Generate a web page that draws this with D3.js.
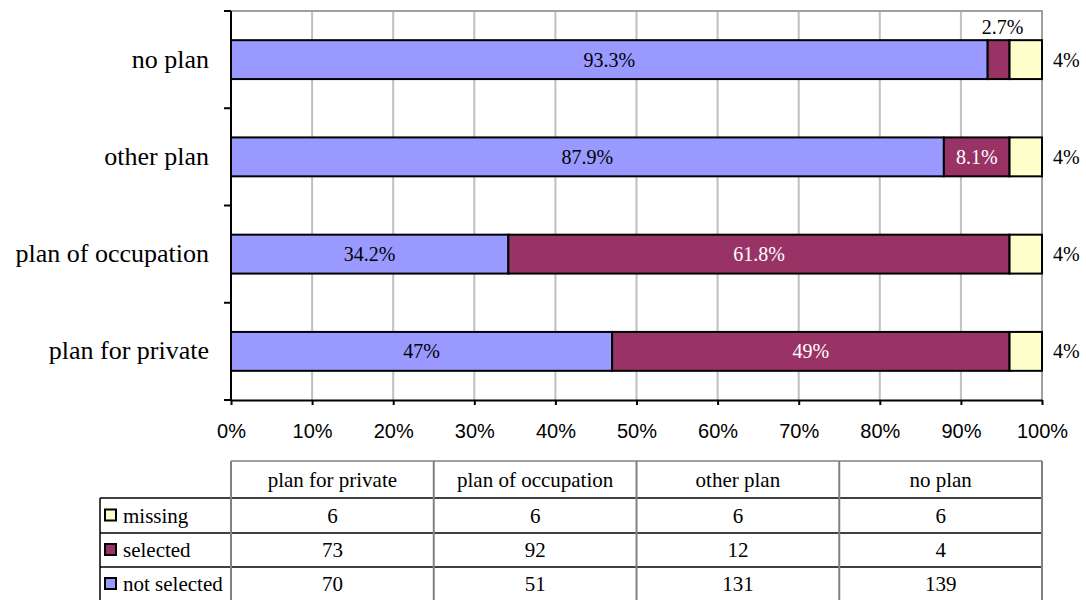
<!DOCTYPE html>
<html>
<head>
<meta charset="utf-8">
<script src="https://cdn.jsdelivr.net/npm/d3@7"></script>
<style>
  html, body { margin: 0; padding: 0; background: #ffffff; }
  svg { display: block; }
</style>
</head>
<body>
<svg id="chart" width="1086" height="600"></svg>
<script>
// Plans, in table order (bottom bar first)
const categories = ["plan for private", "plan of occupation", "other plan", "no plan"];
const seriesNames = ["not selected", "selected", "missing"];

// Counts shown in the data table
const countNotSelected = [70, 51, 131, 139];
const countSelected = [73, 92, 12, 4];
const countMissing = [6, 6, 6, 6];

// Percentage shares drawn as bars and printed on them
const pctNotSelected = [47, 34.2, 87.9, 93.3];
const pctSelected = [49, 61.8, 8.1, 2.7];
const pctMissing = [4, 4, 4, 4];

const xTicks = [0, 10, 20, 30, 40, 50, 60, 70, 80, 90, 100];

const colors = { "not selected": "#9999FF", "selected": "#993366", "missing": "#FFFFCC" };
const serif = "'Times New Roman', 'Liberation Serif', serif";
const sans = "Arial, 'Liberation Sans', sans-serif";

const svg = d3.select("#chart");

const plot = { left: 231, right: 1042, top: 11, bottom: 400 };

const x = d3.scaleLinear().domain([0, 100]).range([plot.left, plot.right]);
const y = d3.scaleBand()
  .domain(categories.slice().reverse())
  .range([plot.top, plot.bottom])
  .paddingInner(0.6)
  .paddingOuter(0.3);

// Gridlines
svg.append("g")
  .selectAll("line")
  .data(xTicks.filter(t => t > 0 && t < 100))
  .join("line")
  .attr("x1", d => x(d)).attr("x2", d => x(d))
  .attr("y1", plot.top).attr("y2", plot.bottom)
  .attr("stroke", "#c0c0c0").attr("stroke-width", 2);

// Plot frame (top and right)
svg.append("path")
  .attr("d", `M${plot.left},${plot.top}H${plot.right}V${plot.bottom}`)
  .attr("fill", "none").attr("stroke", "#a0a0a0").attr("stroke-width", 2);

// Stacked data
const rows = categories.map((c, i) => ({
  cat: c,
  "not selected": pctNotSelected[i],
  "selected": pctSelected[i],
  "missing": pctMissing[i]
}));
const stacked = d3.stack().keys(seriesNames)(rows);

const segs = svg.append("g");
stacked.forEach(layer => {
  segs.selectAll(null)
    .data(layer)
    .join("rect")
    .attr("x", d => x(d[0]))
    .attr("y", d => y(d.data.cat))
    .attr("width", d => x(d[1]) - x(d[0]))
    .attr("height", y.bandwidth())
    .attr("fill", colors[layer.key])
    .attr("stroke", "#000")
    .attr("stroke-width", 2);
});

// Value labels
const labels = svg.append("g").attr("font-family", serif).attr("font-size", 20);
const fmt = v => v + "%";
stacked.forEach(layer => {
  layer.forEach(d => {
    const v = d.data[layer.key];
    const cy = y(d.data.cat) + y.bandwidth() / 2;
    const w = x(d[1]) - x(d[0]);
    if (layer.key === "missing") {
      labels.append("text")
        .attr("x", x(d[1]) + 11).attr("y", cy + 7)
        .attr("fill", "#000")
        .text(fmt(v));
      return;
    }
    const t = labels.append("text")
      .attr("text-anchor", "middle")
      .attr("fill", layer.key === "selected" ? "#fff" : "#000")
      .text(fmt(v));
    const tw = t.node().getComputedTextLength();
    if (tw + 6 > w) {
      t.attr("x", (x(d[0]) + x(d[1])) / 2 + 4)
        .attr("y", y(d.data.cat) - 6)
        .attr("fill", "#000");
    } else {
      t.attr("x", (x(d[0]) + x(d[1])) / 2).attr("y", cy + 7);
    }
  });
});

// Bottom axis
const xAxis = svg.append("g")
  .attr("transform", `translate(0,${plot.bottom})`)
  .call(d3.axisBottom(x).tickValues(xTicks).tickFormat(d => d + "%").tickSize(5).tickPadding(19).tickSizeOuter(0));
xAxis.select(".domain").attr("stroke", "#000").attr("stroke-width", 2);
xAxis.selectAll(".tick line").attr("stroke", "#000").attr("stroke-width", 2);
xAxis.selectAll(".tick text").attr("font-family", sans).attr("font-size", 20).attr("fill", "#000");

// Left axis with ticks on band boundaries
const step = y.step();
const boundaries = y.domain().map(c => y(c) - step * y.paddingInner() / 2).concat([plot.bottom]);
const yAxis = svg.append("g");
yAxis.append("line")
  .attr("x1", plot.left).attr("x2", plot.left)
  .attr("y1", plot.top).attr("y2", plot.bottom)
  .attr("stroke", "#000").attr("stroke-width", 2);
yAxis.selectAll(".tk")
  .data(boundaries)
  .join("line")
  .attr("class", "tk")
  .attr("x1", plot.left - 7).attr("x2", plot.left)
  .attr("y1", d => d).attr("y2", d => d)
  .attr("stroke", "#000").attr("stroke-width", 2);
yAxis.selectAll("text")
  .data(y.domain())
  .join("text")
  .attr("x", 209)
  .attr("y", d => y(d) + y.bandwidth() / 2 + 8)
  .attr("text-anchor", "end")
  .attr("font-family", serif)
  .attr("font-size", 26)
  .attr("fill", "#000")
  .text(d => d);

// Data table
const colX = d3.scaleBand().domain(categories).range([plot.left, plot.right]);
const tableRows = [
  { name: "missing", values: countMissing },
  { name: "selected", values: countSelected },
  { name: "not selected", values: countNotSelected }
];
const headTop = 461, headBottom = 498;
const rowLines = [498, 533, 567, 601];
const legendLeft = 100;
const table = svg.append("g").attr("font-family", serif).attr("font-size", 21).attr("fill", "#000");

// horizontal lines
table.append("line").attr("x1", plot.left).attr("x2", plot.right)
  .attr("y1", headTop).attr("y2", headTop).attr("stroke", "#808080").attr("stroke-width", 1.5);
rowLines.forEach(ly => {
  table.append("line")
    .attr("x1", legendLeft).attr("x2", plot.right)
    .attr("y1", ly).attr("y2", ly)
    .attr("stroke", "#000").attr("stroke-width", 1.5);
});
// vertical lines
categories.forEach(c => {
  table.append("line")
    .attr("x1", colX(c)).attr("x2", colX(c))
    .attr("y1", headTop).attr("y2", 601)
    .attr("stroke", "#808080").attr("stroke-width", 2);
});
table.append("line").attr("x1", plot.right).attr("x2", plot.right)
  .attr("y1", headTop).attr("y2", 601).attr("stroke", "#808080").attr("stroke-width", 2);
table.append("line").attr("x1", legendLeft).attr("x2", legendLeft)
  .attr("y1", headBottom).attr("y2", 601).attr("stroke", "#000").attr("stroke-width", 1.5);

// header
categories.forEach(c => {
  table.append("text")
    .attr("x", colX(c) + colX.bandwidth() / 2)
    .attr("y", (headTop + headBottom) / 2 + 7)
    .attr("text-anchor", "middle")
    .text(c);
});
// rows
tableRows.forEach((r, i) => {
  const top = rowLines[i], bot = rowLines[i + 1];
  const cy = (top + bot) / 2;
  table.append("rect")
    .attr("x", 105).attr("y", cy - 6)
    .attr("width", 11).attr("height", 11)
    .attr("fill", colors[r.name]).attr("stroke", "#000").attr("stroke-width", 2);
  table.append("text")
    .attr("x", 123).attr("y", cy + 7)
    .text(r.name);
  r.values.forEach((v, j) => {
    table.append("text")
      .attr("x", colX(categories[j]) + colX.bandwidth() / 2)
      .attr("y", cy + 7)
      .attr("text-anchor", "middle")
      .text(v);
  });
});
</script>
</body>
</html>
